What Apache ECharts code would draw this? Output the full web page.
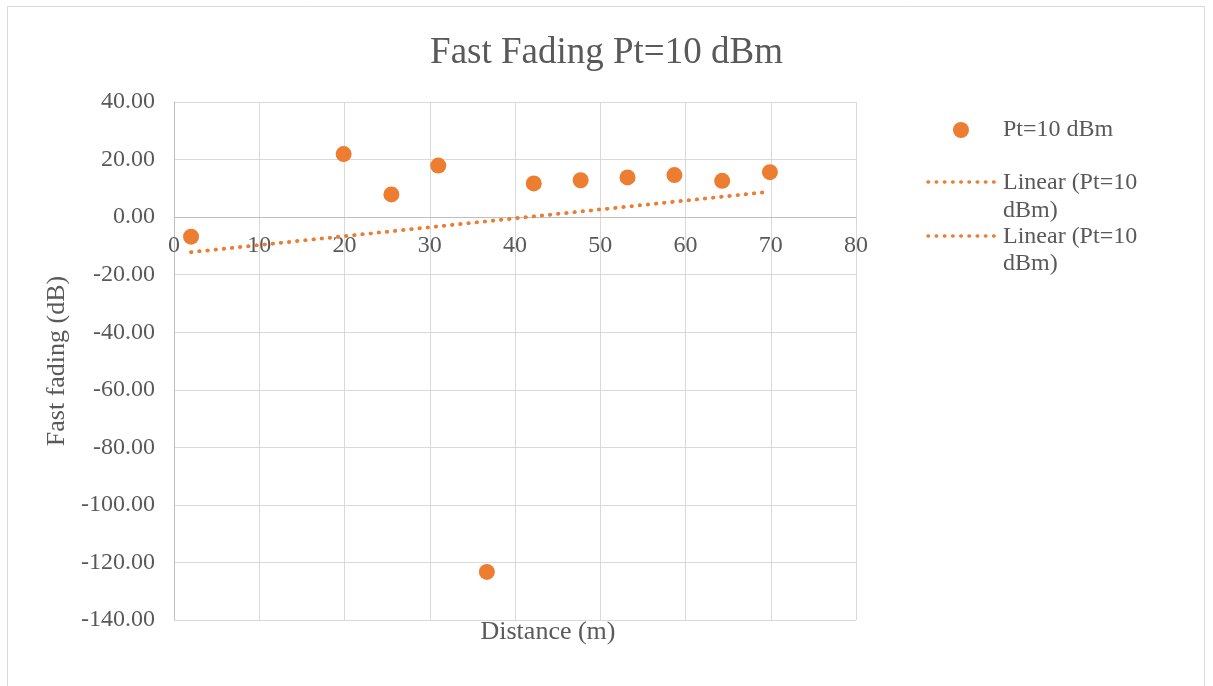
<!DOCTYPE html>
<html>
<head>
<meta charset="utf-8">
<script src="https://cdn.jsdelivr.net/npm/echarts@6/dist/echarts.min.js"></script>
<style>
  html, body { margin: 0; padding: 0; background: #ffffff; }
  #chart { width: 1213px; height: 686px; }
</style>
</head>
<body>
<div id="chart"></div>
<script>
// Measured fast fading versus distance, transmit power 10 dBm
const distances = [2.0, 19.9, 25.5, 31.0, 36.7, 42.2, 47.7, 53.2, 58.7, 64.3, 69.9];
const fading = [-6.8, 21.9, 7.9, 17.9, -123.3, 11.7, 12.8, 13.8, 14.6, 12.6, 15.6];
const xTicks = { min: 0, max: 80, step: 10 };
const yTicks = { min: -140, max: 40, step: 20 };

const seriesName = 'Pt=10 dBm';
const trendName = 'Linear (Pt=10 dBm)';

const ORANGE = '#ED7D31';
const TEXT = '#595959';
const FONT = '"Liberation Serif", "Times New Roman", serif';

// Least-squares linear trend over the measured points
function linearFit(xs, ys) {
  const n = xs.length;
  const mx = xs.reduce((a, b) => a + b, 0) / n;
  const my = ys.reduce((a, b) => a + b, 0) / n;
  let sxy = 0, sxx = 0;
  for (let i = 0; i < n; i++) {
    sxy += (xs[i] - mx) * (ys[i] - my);
    sxx += (xs[i] - mx) * (xs[i] - mx);
  }
  const slope = sxy / sxx;
  return { slope, intercept: my - slope * mx };
}
const fit = linearFit(distances, fading);
const xLo = Math.min(...distances), xHi = Math.max(...distances);
const trendData = [
  [xLo, fit.intercept + fit.slope * xLo],
  [xHi, fit.intercept + fit.slope * xHi]
];
const points = distances.map((d, i) => [d, fading[i]]);

const dotted = { color: ORANGE, width: 3.5, type: [0.5, 7.7], cap: 'round' };

const chart = echarts.init(document.getElementById('chart'), null, { renderer: 'canvas' });

// Legend entries drawn as plain shapes and text
function legendLine(y) {
  return {
    type: 'line',
    shape: { x1: 928, y1: y, x2: 995, y2: y },
    style: { stroke: ORANGE, lineWidth: 3.5, lineDash: [0.5, 7.7], lineCap: 'round' }
  };
}
function legendText(x, y, txt) {
  return {
    type: 'text', x: x, y: y,
    style: { text: txt, fill: TEXT, font: '24px ' + FONT, verticalAlign: 'middle', align: 'left' }
  };
}

chart.setOption({
  backgroundColor: '#ffffff',
  animation: false,
  title: {
    text: 'Fast Fading Pt=10 dBm',
    left: 'center',
    top: 30,
    textStyle: { fontFamily: FONT, fontSize: 37, fontWeight: 'normal', color: TEXT }
  },
  grid: { left: 174, right: 357, top: 102, bottom: 66, containLabel: false },
  xAxis: {
    type: 'value',
    min: xTicks.min, max: xTicks.max, interval: xTicks.step,
    axisLine: { show: true, onZero: false, lineStyle: { color: '#bfbfbf', width: 1 } },
    axisTick: { show: false },
    axisLabel: { color: TEXT, fontFamily: FONT, fontSize: 24, margin: 17 },
    splitLine: { show: true, lineStyle: { color: '#d9d9d9', width: 1 } }
  },
  yAxis: {
    type: 'value',
    min: yTicks.min, max: yTicks.max, interval: yTicks.step,
    name: 'Fast fading (dB)',
    nameLocation: 'middle',
    nameGap: 99,
    nameTextStyle: { color: TEXT, fontFamily: FONT, fontSize: 26 },
    axisLine: { show: true, onZero: false, lineStyle: { color: '#bfbfbf', width: 1 } },
    axisTick: { show: false },
    axisLabel: { color: TEXT, fontFamily: FONT, fontSize: 24, margin: 19,
      formatter: v => v.toFixed(2) },
    splitLine: { show: true, lineStyle: { color: '#d9d9d9', width: 1 } }
  },
  series: [
    {
      name: seriesName,
      type: 'scatter',
      data: points,
      symbol: 'circle',
      symbolSize: 16,
      itemStyle: { color: ORANGE, opacity: 1 },
      z: 3
    },
    {
      name: trendName,
      type: 'line',
      data: trendData,
      showSymbol: false,
      lineStyle: dotted,
      z: 2
    },
    {
      name: trendName + ' ',
      type: 'line',
      data: trendData,
      showSymbol: false,
      lineStyle: dotted,
      z: 2
    }
  ],
  graphic: [
    {
      type: 'rect',
      shape: { x: 7.5, y: 6.5, width: 1197, height: 700 },
      style: { fill: 'none', stroke: '#d9d9d9', lineWidth: 1 },
      silent: true
    },
    {
      type: 'text', x: 548, y: 632,
      style: { text: 'Distance (m)', fill: TEXT, font: '26px ' + FONT, align: 'center', verticalAlign: 'middle' }
    },
    {
      type: 'circle',
      shape: { cx: 961, cy: 130, r: 8 },
      style: { fill: ORANGE }
    },
    legendText(1003, 130, seriesName),
    legendLine(182),
    legendText(1003, 183, 'Linear (Pt=10'),
    legendText(1003, 211, 'dBm)'),
    legendLine(236),
    legendText(1003, 237, 'Linear (Pt=10'),
    legendText(1003, 264, 'dBm)')
  ]
});

// Place the horizontal axis (line and labels) where the vertical value is zero
const zeroY = chart.convertToPixel({ gridIndex: 0 }, [0, 0])[1];
const bottomY = chart.convertToPixel({ gridIndex: 0 }, [0, yTicks.min])[1];
chart.setOption({ xAxis: { offset: -(bottomY - zeroY) } });
</script>
</body>
</html>
